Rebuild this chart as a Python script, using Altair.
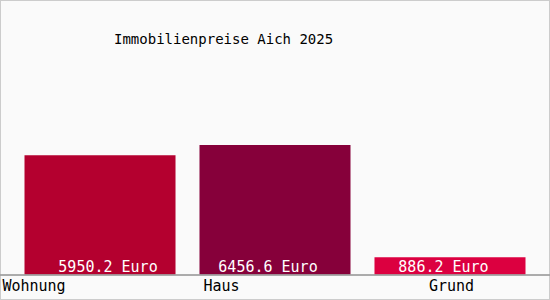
import altair as alt
import pandas as pd

categories = ["Wohnung", "Haus", "Grund"]
values = [5950.2, 6456.6, 886.2]
colors = ["#b4002f", "#86003a", "#dc0040"]

df = pd.DataFrame({"kategorie": categories, "wert": values})

FONT = "DejaVu Sans Mono"
value_dx = {"Wohnung": 8, "Haus": -7, "Grund": -6.5}
label_dx = {"Wohnung": -66, "Haus": -53.5, "Grund": 1.5}

x = alt.X("kategorie:N", sort=categories, axis=None,
          scale=alt.Scale(paddingInner=0.137, paddingOuter=0.14))
yscale = alt.Scale(domain=[0, 11175], range=[275, 50], nice=False, zero=True)

base = alt.Chart(df)

bars = base.mark_bar().encode(
    x=x,
    y=alt.Y("wert:Q", scale=yscale, axis=None),
    color=alt.Color("kategorie:N", scale=alt.Scale(domain=categories, range=colors), legend=None),
)

rule = base.mark_rule(color="#a0a0a0", strokeWidth=1).encode(
    y=alt.datum(0, scale=yscale),
    x=alt.value(0),
    x2=alt.value(550),
)

layers = [bars, rule]
for c in categories:
    layers.append(
        base.transform_filter(alt.datum.kategorie == c)
        .transform_calculate(txt="format(datum.wert, '.1f') + ' Euro'")
        .mark_text(font=FONT, fontSize=15, color="white", baseline="alphabetic",
                   align="center", dx=value_dx[c], dy=-3)
        .encode(x=x, y=alt.datum(0, scale=yscale), text="txt:N")
    )
    layers.append(
        base.transform_filter(alt.datum.kategorie == c)
        .mark_text(font=FONT, fontSize=15, color="black", baseline="alphabetic",
                   align="center", dx=label_dx[c], dy=16)
        .encode(x=x, y=alt.datum(0, scale=yscale), text="kategorie:N")
    )

chart = alt.layer(*layers).properties(
    width=550,
    height=300,
    autosize=alt.AutoSizeParams(type="none"),
    padding=0,
    background="#fafafa",
    title=alt.TitleParams(
        "Immobilienpreise Aich 2025",
        anchor="start", frame="group", dx=114, offset=-58,
        baseline="alphabetic", font=FONT, fontSize=14,
        fontWeight="normal", color="black",
    ),
).configure_view(stroke="#cccccc", strokeWidth=2)

chart.save("out.html", embed_options={"renderer": "svg", "actions": False})
